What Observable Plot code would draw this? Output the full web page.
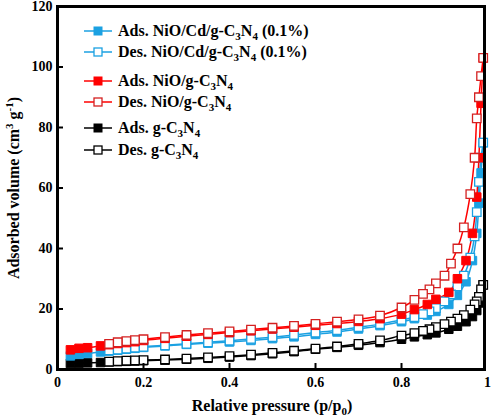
<!DOCTYPE html>
<html>
<head>
<meta charset="utf-8">
<script src="https://cdn.jsdelivr.net/npm/d3@7"></script>
<script src="https://cdn.jsdelivr.net/npm/@observablehq/plot@0.6"></script>
<style>
  html, body { margin: 0; padding: 0; background: #fff; }
  svg { display: block; }
</style>
</head>
<body>
<div id="chart"></div>
<script>
// Relative pressure points (adsorption branch, ascending)
const pAds = [0.03, 0.05, 0.07, 0.10, 0.12, 0.14, 0.16, 0.18, 0.20, 0.25, 0.30, 0.35, 0.40, 0.45, 0.50, 0.55, 0.60, 0.65, 0.70, 0.75, 0.80, 0.83, 0.86, 0.88, 0.91, 0.93, 0.95, 0.965, 0.975, 0.98, 0.985, 0.99];
// Relative pressure points (desorption branch)
const pDes = [0.99, 0.985, 0.98, 0.975, 0.97, 0.96, 0.945, 0.93, 0.915, 0.90, 0.88, 0.865, 0.85, 0.83, 0.80, 0.75, 0.70, 0.65, 0.60, 0.55, 0.50, 0.45, 0.40, 0.35, 0.30, 0.25, 0.20, 0.18, 0.16, 0.14, 0.12];

// NiO/Cd/g-C3N4 (0.1%)
const niocdAds = [4.5, 5.0, 5.3, 5.8, 6.1, 6.4, 6.7, 7.0, 7.3, 7.8, 8.3, 8.7, 9.1, 9.6, 10.2, 10.8, 11.6, 12.4, 13.4, 14.5, 15.8, 16.8, 18.0, 19.2, 21.5, 24.5, 29, 36, 45, 55, 65, 75];
const niocdDes = [75, 70, 62, 52, 44, 37, 31, 27.5, 24.8, 22.5, 20.3, 19.2, 18.3, 17.3, 16.4, 15.0, 14.0, 13.0, 12.2, 11.4, 10.7, 10.1, 9.5, 9.0, 8.5, 8.0, 7.5, 7.2, 6.9, 6.6, 6.3];
// NiO/g-C3N4
const nioAds = [6.5, 7.0, 7.2, 7.8, 8.2, 8.6, 8.9, 9.2, 9.6, 10.3, 11.0, 11.6, 12.2, 12.8, 13.4, 14.0, 14.6, 15.2, 15.9, 16.8, 18.3, 19.8, 21.5, 23.2, 25.5, 30, 36, 45, 57, 70, 88, 103];
const nioDes = [103, 97, 90, 83, 70, 58, 47, 40, 35, 31, 28.5, 26.5, 25, 23, 20.5, 17.8, 16.6, 15.8, 15.1, 14.4, 13.8, 13.2, 12.6, 12.0, 11.4, 10.7, 10.0, 9.7, 9.4, 9.0, 8.5];
// g-C3N4
const gcnAds = [2.0, 2.1, 2.2, 2.3, 2.5, 2.6, 2.7, 2.8, 2.9, 3.1, 3.4, 3.7, 4.1, 4.6, 5.2, 5.9, 6.7, 7.3, 8.0, 8.9, 10.0, 10.8, 11.5, 12.1, 13.3, 14.3, 15.8, 17.5, 19.5, 22, 25, 28];
const gcnDes = [28, 26.5, 24, 22.5, 21.5, 19.8, 18.0, 16.8, 15.8, 15.0, 14.0, 13.3, 12.8, 12.0, 11.2, 9.6, 8.5, 7.6, 6.9, 6.2, 5.5, 4.9, 4.4, 4.0, 3.6, 3.3, 3.1, 3.0, 2.9, 2.8, 2.6];

const xTicks = [0, 0.2, 0.4, 0.6, 0.8, 1];
const yTicks = [0, 20, 40, 60, 80, 100, 120];

const blue = "#1ba1e2", red = "#ff0000", black = "#000000";
const seriesDefs = [
  {label: "Ads. NiO/Cd/g-C", tail: " (0.1%)", p: pAds, v: niocdAds, color: blue, open: false, ms: blue},
  {label: "Des. NiO/Cd/g-C", tail: " (0.1%)", p: pDes, v: niocdDes, color: blue, open: true, ms: blue},
  {label: "Ads. NiO/g-C", tail: "", p: pAds, v: nioAds, color: red, open: false, ms: red},
  {label: "Des. NiO/g-C", tail: "", p: pDes, v: nioDes, color: red, open: true, ms: "#d42020"},
  {label: "Ads. g-C", tail: "", p: pAds, v: gcnAds, color: black, open: false, ms: black},
  {label: "Des. g-C", tail: "", p: pDes, v: gcnDes, color: black, open: true, ms: black}
];
const rows = s => s.p.map((x, i) => ({p: x, v: s.v[i]}));

const xDomain = [0, 0.993], yDomain = [0, 120];
const drawOrder = [4, 5, 0, 1, 2, 3];
const marks = [];
for (const i of drawOrder) {
  const s = seriesDefs[i];
  marks.push(Plot.line(rows(s), {x: "p", y: "v", stroke: s.color, strokeWidth: 1.5, curve: "catmull-rom", sort: "p"}));
}
for (const i of drawOrder) {
  const s = seriesDefs[i];
  marks.push(Plot.dot(rows(s), {x: "p", y: "v", symbol: "square", r: 4.8,
    fill: s.open ? "white" : s.color, stroke: s.ms, strokeWidth: s.open ? 1.3 : 1}));
}
// inward tick marks
const tickLenX = (yDomain[1] - yDomain[0]) * 6 / 364;
const tickLenY = (xDomain[1] - xDomain[0]) * 6 / 427;
marks.push(Plot.ruleX(xTicks.filter(t => t > 0 && t < 1), {x: d => d, y1: yDomain[0], y2: yDomain[0] + tickLenX, stroke: "black", strokeWidth: 2}));
marks.push(Plot.ruleY(yTicks.filter(t => t > 0 && t < 120), {y: d => d, x1: xDomain[0], x2: xDomain[0] + tickLenY, stroke: "black", strokeWidth: 2}));
marks.push(Plot.frame({stroke: "black", strokeWidth: 3}));

const chart = Plot.plot({
  width: 492, height: 416,
  marginTop: 6, marginBottom: 47, marginLeft: 57, marginRight: 8,
  style: {fontFamily: "'Liberation Serif', 'Times New Roman', serif", fontWeight: "bold", fontSize: "14px", background: "white", color: "black"},
  x: {domain: xDomain, ticks: xTicks, tickFormat: d => (d === 0 || d === 1) ? String(d) : d.toFixed(1), tickSize: 0, tickPadding: 8, label: null},
  y: {domain: yDomain, ticks: yTicks, tickSize: 0, tickPadding: 5, label: null},
  marks
});
document.getElementById("chart").appendChild(chart);

// Axis titles and legend (with sub/superscripts)
const svg = d3.select(chart);
const font = "bold 16px 'Liberation Serif', 'Times New Roman', serif";
const xt = svg.append("text").attr("x", 272).attr("y", 411).attr("text-anchor", "middle").style("font", font).attr("fill", "black");
xt.append("tspan").text("Relative pressure (p/p");
xt.append("tspan").attr("dy", 4).style("font-size", "11px").text("0");
xt.append("tspan").attr("dy", -4).text(")");

const yt = svg.append("text").attr("transform", "translate(19,188) rotate(-90)").attr("text-anchor", "middle").style("font", font).attr("fill", "black");
yt.append("tspan").text("Adsorbed volume (cm");
yt.append("tspan").attr("dy", -6).style("font-size", "11px").text("3");
yt.append("tspan").attr("dy", 6).text(" g");
yt.append("tspan").attr("dy", -6).style("font-size", "11px").text("-1");
yt.append("tspan").attr("dy", 6).text(")");

const legY = [31, 52, 81, 102, 128, 150];
seriesDefs.forEach((s, i) => {
  const g = svg.append("g").attr("transform", `translate(0,${legY[i]})`);
  g.append("line").attr("x1", 84).attr("x2", 112).attr("y1", 0).attr("y2", 0).attr("stroke", s.color).attr("stroke-width", 1.5);
  g.append("rect").attr("x", 94).attr("y", -4).attr("width", 8).attr("height", 8)
    .attr("fill", s.open ? "white" : s.color).attr("stroke", s.ms).attr("stroke-width", s.open ? 1.3 : 1);
  const t = g.append("text").attr("x", 118).attr("y", 5).attr("text-anchor", "start").style("font", font).attr("fill", "black");
  t.append("tspan").text(s.label);
  t.append("tspan").attr("dy", 4).style("font-size", "11px").text("3");
  t.append("tspan").attr("dy", -4).text("N");
  t.append("tspan").attr("dy", 4).style("font-size", "11px").text("4");
  if (s.tail) t.append("tspan").attr("dy", -4).text(s.tail);
});
</script>
</body>
</html>
